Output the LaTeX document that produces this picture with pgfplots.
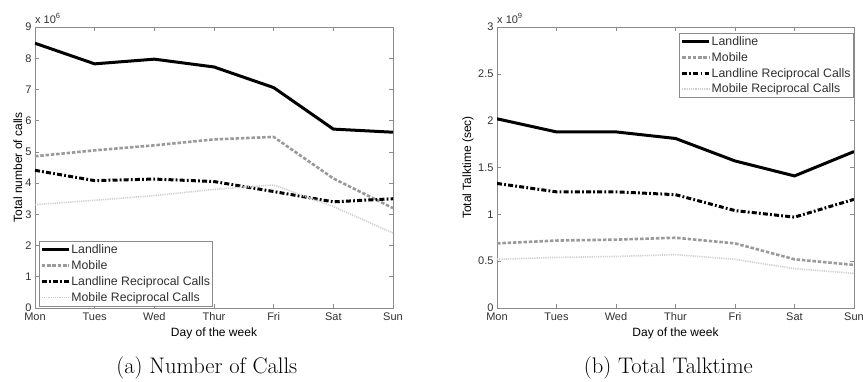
\documentclass[border=0pt]{standalone}
\usepackage{fontspec}
\usepackage{pgfplots}
\pgfplotsset{compat=1.18}
\newfontfamily\arial{Liberation Sans}
\definecolor{boxgray}{HTML}{8A8A8A}
\definecolor{txtgray}{HTML}{303030}
\definecolor{mobgray}{HTML}{9A9A9A}
\definecolor{mrgray}{HTML}{CFCFCF}
\pgfplotsset{
  mystyle/.style={
    scale only axis,
    clip mode=individual,
    width=358pt, height=281pt,
    xmin=0, xmax=6, xtick={0,...,6},
    xticklabels={Mon,Tues,Wed,Thur,Fri,Sat,Sun},
    axis line style={boxgray, line width=0.6pt},
    tick style={boxgray, line width=0.6pt},
    major tick length=4pt,
    tick align=inside,
    ticklabel style={font=\arial\fontsize{11}{13}\selectfont, text=txtgray},
    /pgf/number format/assume math mode=true,
    xticklabel style={yshift=-1pt},
    label style={font=\arial\fontsize{12}{14}\selectfont, text=black},
    xlabel={Day of the week},
    xlabel style={at={(axis description cs:0.5,-0.092)}, anchor=center},
    legend style={draw=boxgray, font=\arial\fontsize{12.3}{14}\selectfont, text=txtgray,
      inner sep=1.2pt, row sep=1.5pt, cells={anchor=west},
      nodes={inner xsep=1pt}},
    legend image code/.code={\draw[##1] (0pt,0pt) -- (27pt,0pt);},
  },
  landline/.style={black, line width=3pt},
  mobile/.style={mobgray, line width=2.6pt, dash pattern=on 3.5pt off 1.8pt},
  lrec/.style={black, line width=3pt, dash pattern=on 5pt off 2.2pt on 1.8pt off 2.2pt},
  mrec/.style={mrgray, line width=1.6pt, dash pattern=on 1.2pt off 1pt},
}
\begin{document}
\begin{tikzpicture}[x=1pt,y=1pt]
\path[use as bounding box] (0,0) rectangle (863,381);
\begin{axis}[mystyle, at={(35pt,73pt)}, anchor=south west,
  ymin=0, ymax=9, ytick={0,...,9},
  ylabel={Total number of calls},
  ylabel style={at={(axis description cs:-0.048,0.5)}, anchor=center},
  legend style={at={(axis description cs:0.011,0.007)}, anchor=south west},
]
\addplot[landline] coordinates {(0,8.48) (1,7.82) (2,7.97) (3,7.72) (4,7.06) (5,5.73) (6,5.63)};
\addlegendentry{Landline}
\addplot[mobile] coordinates {(0,4.86) (1,5.05) (2,5.21) (3,5.40) (4,5.48) (5,4.15) (6,3.20)};
\addlegendentry{Mobile}
\addplot[lrec] coordinates {(0,4.41) (1,4.08) (2,4.13) (3,4.05) (4,3.73) (5,3.40) (6,3.50)};
\addlegendentry{Landline Reciprocal Calls}
\addplot[mrec] coordinates {(0,3.31) (1,3.45) (2,3.60) (3,3.80) (4,3.94) (5,3.25) (6,2.40)};
\addlegendentry{Mobile Reciprocal Calls}
\node[anchor=south west, inner sep=0pt, font=\arial\fontsize{11}{13}\selectfont, text=txtgray]
  at (axis description cs:0,1.012) {x 10\raisebox{0.9ex}{\fontsize{7.5}{8}\selectfont 6}};
\node[anchor=center, font=\fontsize{22.5}{26}\selectfont] at (axis description cs:0.48,-0.213) {(a) Number of Calls};
\end{axis}
\begin{axis}[mystyle, at={(497pt,73pt)}, anchor=south west,
  width=357pt,
  ymin=0, ymax=3, ytick={0,0.5,...,3},
  yticklabels={0,0.5,1,1.5,2,2.5,3},
  ylabel={Total Talktime (sec)},
  ylabel style={at={(axis description cs:-0.081,0.5)}, anchor=center},
  legend style={at={(axis description cs:0.997,0.979)}, anchor=north east},
]
\addplot[landline] coordinates {(0,2.02) (1,1.88) (2,1.88) (3,1.81) (4,1.57) (5,1.41) (6,1.67)};
\addlegendentry{Landline}
\addplot[mobile] coordinates {(0,0.69) (1,0.72) (2,0.73) (3,0.75) (4,0.69) (5,0.52) (6,0.46)};
\addlegendentry{Mobile}
\addplot[lrec] coordinates {(0,1.33) (1,1.24) (2,1.24) (3,1.21) (4,1.04) (5,0.97) (6,1.16)};
\addlegendentry{Landline Reciprocal Calls}
\addplot[mrec] coordinates {(0,0.52) (1,0.54) (2,0.55) (3,0.57) (4,0.52) (5,0.42) (6,0.37)};
\addlegendentry{Mobile Reciprocal Calls}
\node[anchor=south west, inner sep=0pt, font=\arial\fontsize{11}{13}\selectfont, text=txtgray]
  at (axis description cs:0,1.012) {x 10\raisebox{0.9ex}{\fontsize{7.5}{8}\selectfont 9}};
\node[anchor=center, font=\fontsize{22.5}{26}\selectfont] at (axis description cs:0.48,-0.213) {(b) Total Talktime};
\end{axis}
\end{tikzpicture}
\end{document}
